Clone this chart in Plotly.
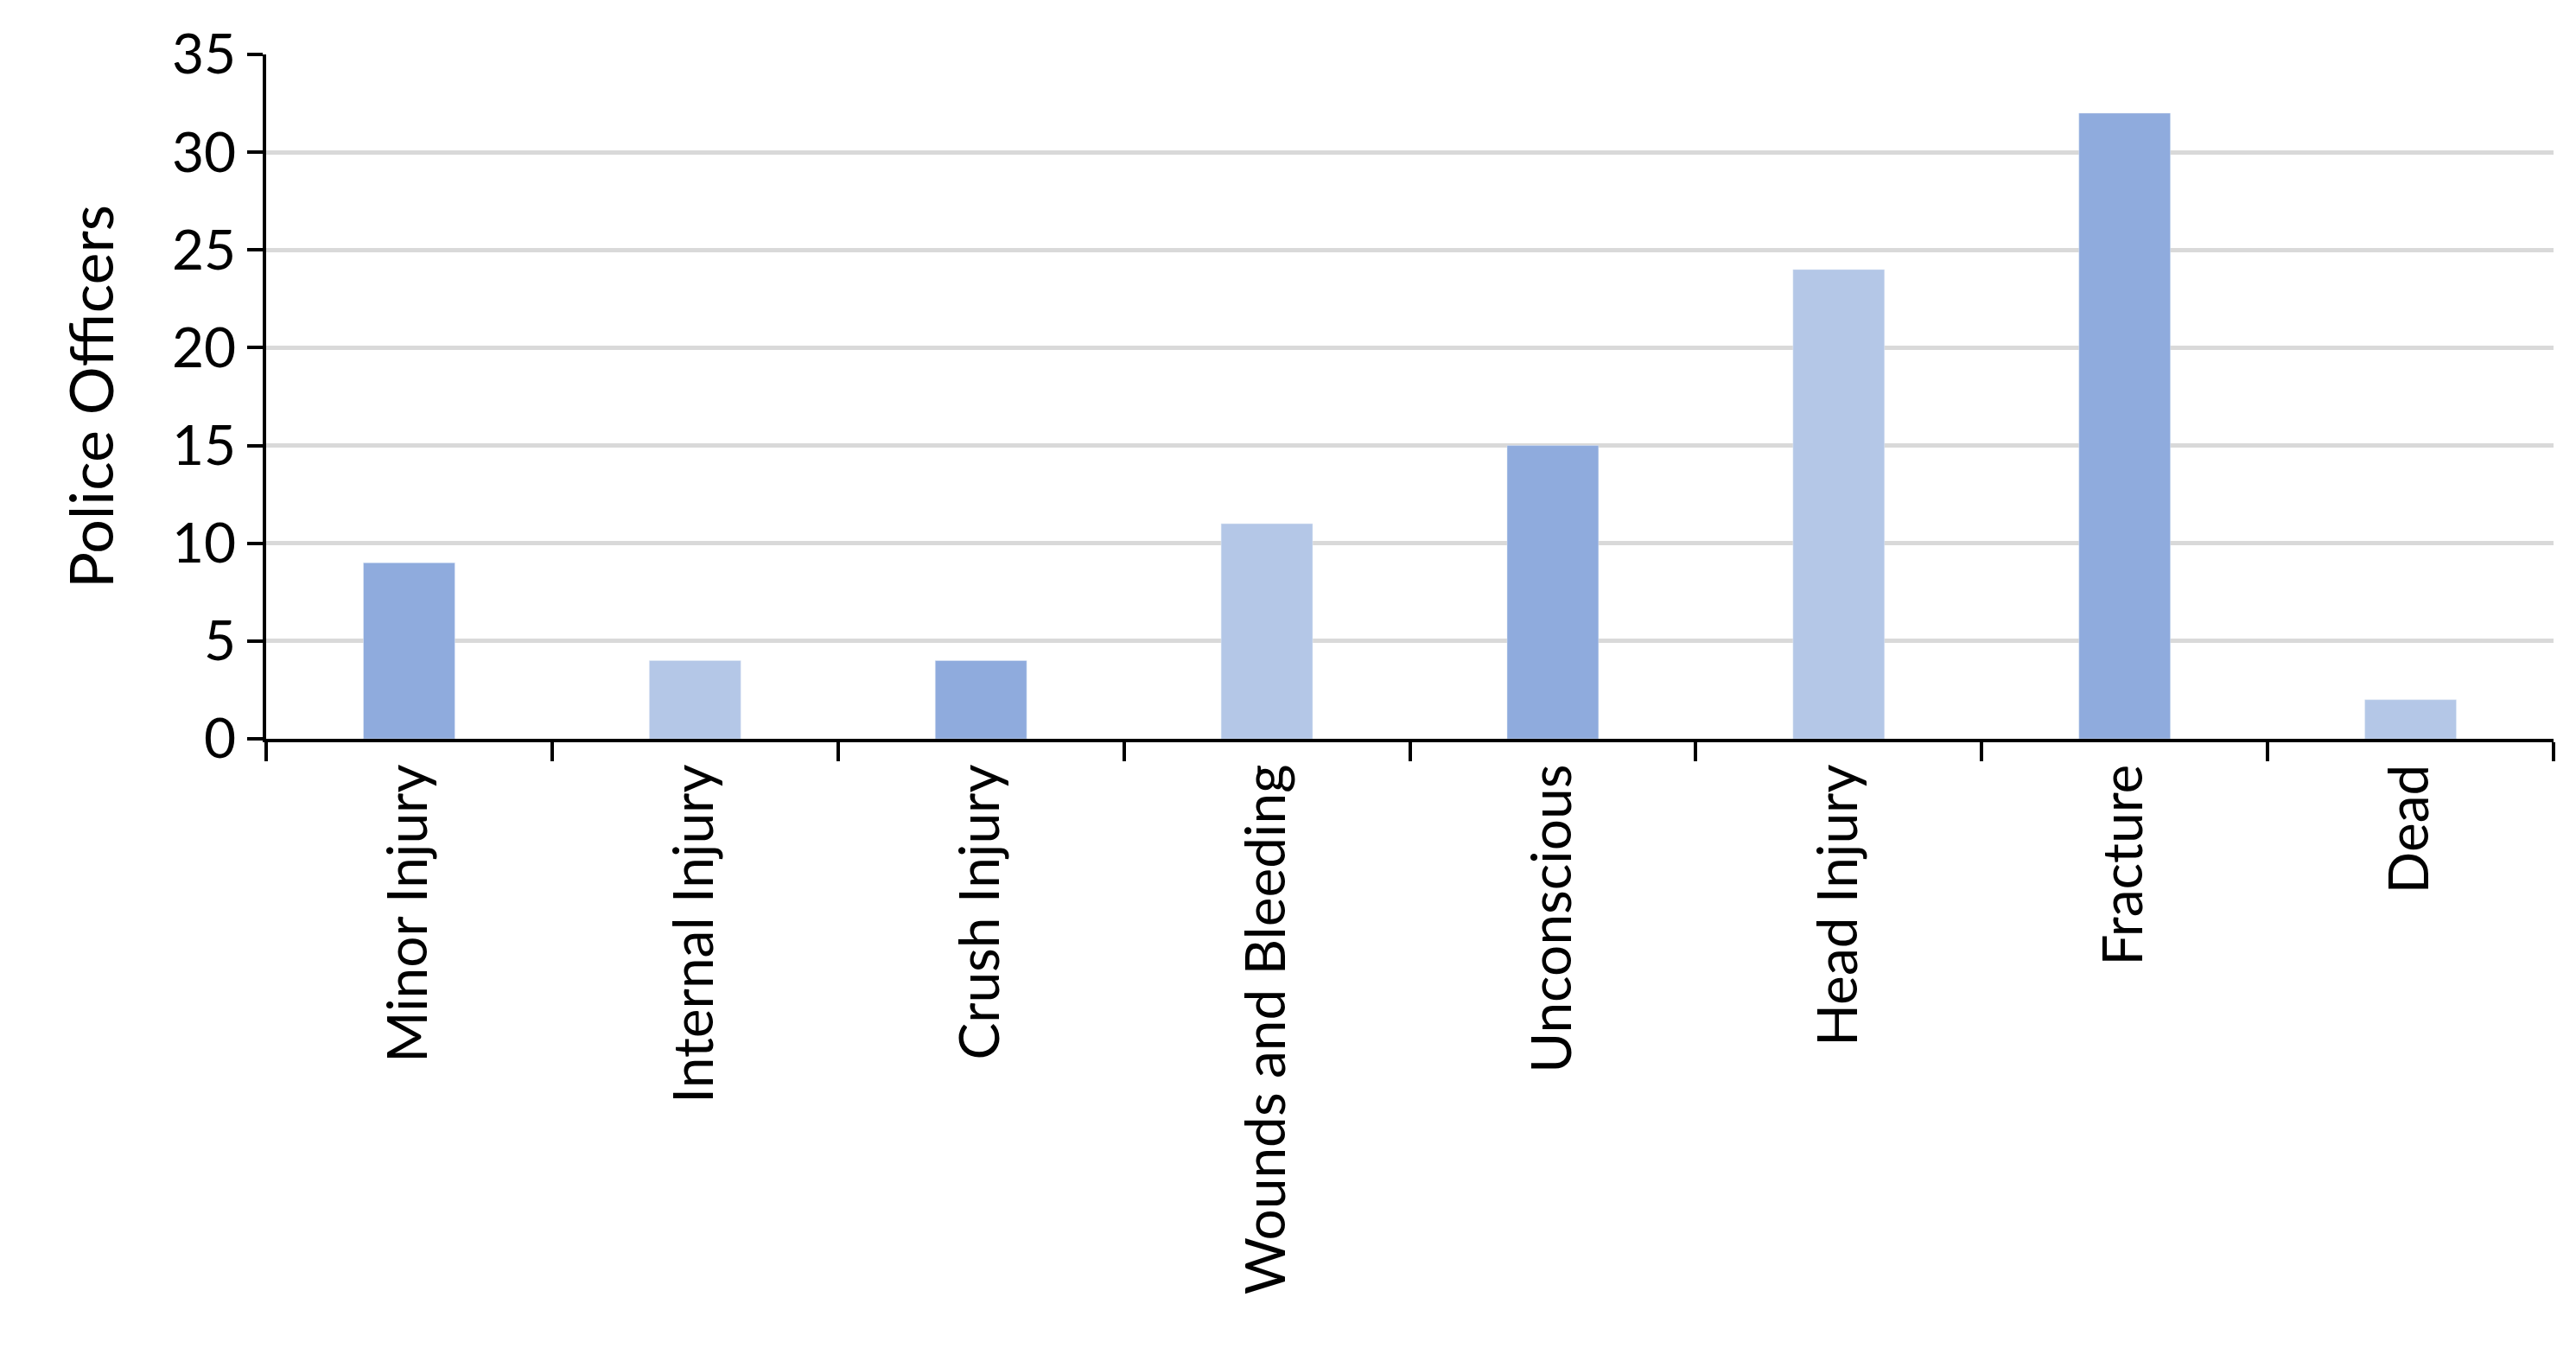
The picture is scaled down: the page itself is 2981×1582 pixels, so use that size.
import plotly.graph_objects as go

categories = ["Minor Injury", "Internal Injury", "Crush Injury", "Wounds and Bleeding",
              "Unconscious", "Head Injury", "Fracture", "Dead"]
values = [9, 4, 4, 11, 15, 24, 32, 2]
colors = ["#8FABDD", "#B4C7E7", "#8FABDD", "#B4C7E7", "#8FABDD", "#B4C7E7", "#8FABDD", "#B4C7E7"]

fig = go.Figure(go.Bar(x=categories, y=values, marker_color=colors, width=0.32))
fig.update_layout(
    width=2981, height=1582, plot_bgcolor="white", paper_bgcolor="white",
    margin=dict(l=300, r=34, t=55, b=735),
    font=dict(family="Lato", size=64, color="black"),
    showlegend=False,
)
fig.update_xaxes(tickangle=-90, showline=True, linecolor="black", linewidth=4,
                 ticks="outside", tickson="boundaries", ticklen=22, tickwidth=4,
                 tickcolor="black", tickfont=dict(size=64))
fig.update_yaxes(range=[0, 35], dtick=5, showline=True, linecolor="black", linewidth=4,
                 ticks="outside", ticklen=18, tickwidth=4, tickcolor="black",
                 gridcolor="#D9D9D9", gridwidth=5, zeroline=False,
                 title=dict(text="Police Officers", font=dict(size=70), standoff=45),
                 tickfont=dict(size=64))
fig.write_html("out.html")
